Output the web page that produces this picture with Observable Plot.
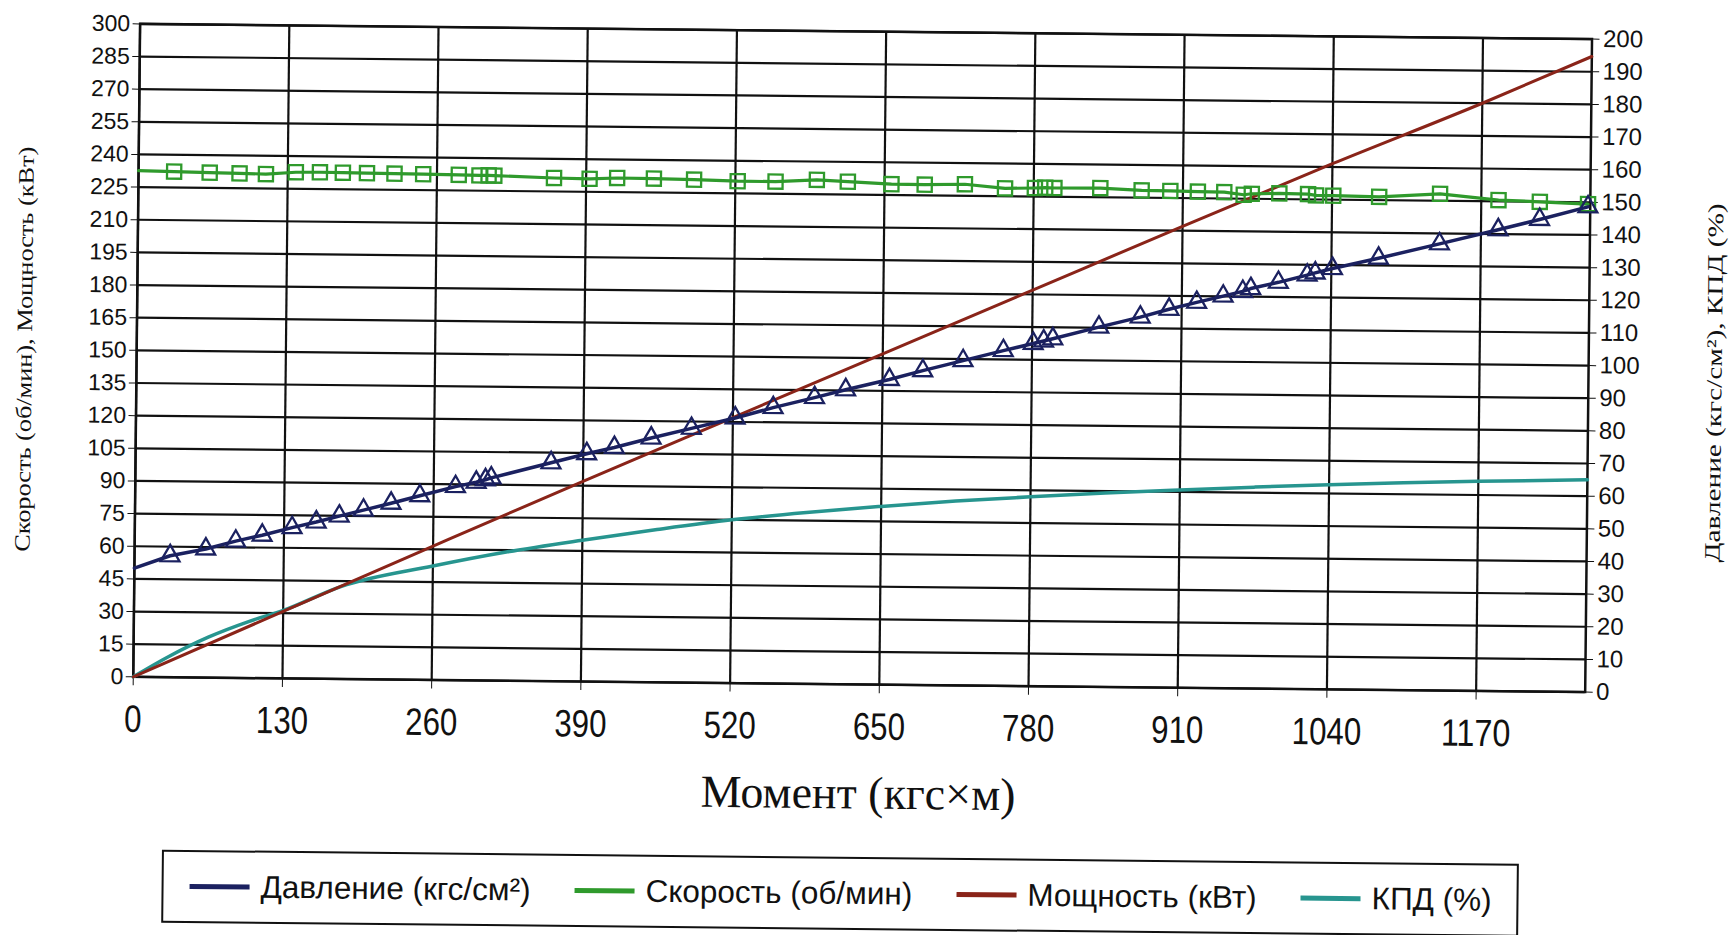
<!DOCTYPE html>
<html>
<head>
<meta charset="utf-8">
<script src="https://cdn.jsdelivr.net/npm/d3@7"></script>
<script src="https://cdn.jsdelivr.net/npm/@observablehq/plot@0.6"></script>
<style>
  html, body { margin: 0; padding: 0; background: #ffffff; }
  #page { position: relative; width: 1731px; height: 935px; transform: rotate(0.6deg); transform-origin: 865px 467px; }
  #chart svg { display: block; }
  #legend { position: absolute; left: 166px; top: 857px; width: 1357px; height: 73px; box-sizing: border-box;
            border: 2.5px solid #111; display: flex; align-items: center; padding-left: 26px; gap: 44px;
            font-family: "Liberation Sans", Arial, sans-serif; font-size: 31.5px; color: #111; }
  .item { display: flex; align-items: center; gap: 11px; white-space: nowrap; }
  .swatch { width: 60px; height: 5px; }
</style>
</head>
<body>
<div id="page">
  <div id="chart"></div>
  <div id="legend"></div>
</div>
<script>
// ---------- data ----------
// measurement points (torque, kgf·m)
const momentMarks = [31,62,88,111,137,158,178,199,223,248,279,297,305,310,362,393,417,449,484,522,555,591,618,656,685,720,755,781,790,798,838,874,899,923,946,963,970,994,1019,1026,1041,1081,1134,1185,1221,1263];
// pressure (kgf/cm²) – right axis
const pressure = [37.2,39.4,41.9,43.8,46.2,48.0,49.9,51.8,54.0,56.4,59.3,60.7,61.5,62.1,66.9,69.8,71.8,74.8,77.9,81.2,84.5,87.7,90.2,93.5,96.3,99.5,102.7,105.0,105.8,106.5,110.2,113.4,115.9,118.1,120.1,121.6,122.5,124.5,126.8,127.5,128.9,132.2,136.8,141.3,144.6,148.6];
// speed (rpm) – left axis
const speed = [232.3,232.0,231.8,231.6,232.6,232.7,232.6,232.5,232.4,232.3,232.2,232.0,232.1,232.0,231.2,231.0,231.5,231.4,231.1,230.6,230.6,231.6,230.9,230.0,229.9,230.3,228.6,228.9,229.1,229.0,229.2,228.3,228.2,228.0,227.9,226.8,227.3,227.6,227.4,226.9,226.8,226.5,228.2,225.6,225.0,224.2];
// line start values at zero torque
const pressureAtZero = 33.3;
const speedAtZero = 232.6;
// power (kW) – left axis
const powerMoment = [0,130,260,390,520,650,780,910,1040,1170,1265];
const power = [0,30.8,61.5,92,122,152,182,212,241.5,270,292];
// efficiency (%) – right axis
const effMoment = [0,30,65,100,130,180,260,325,390,455,520,585,650,715,780,845,910,975,1040,1105,1170,1265];
const efficiency = [0,6.2,12.4,17.3,20.8,28.3,34.9,39.5,43.3,46.8,50.0,52.5,54.6,56.5,58.0,59.4,60.6,61.7,62.7,63.5,64.2,65.0];

// ticks
const xTicks = [0,130,260,390,520,650,780,910,1040,1170];
const leftTicks = [0,15,30,45,60,75,90,105,120,135,150,165,180,195,210,225,240,255,270,285,300];
const rightTicks = [0,10,20,30,40,50,60,70,80,90,100,110,120,130,140,150,160,170,180,190,200];
const xDomain = [0, 1265];
const leftDomain = [0, 300];
const rightDomain = [0, 200];

const xTitle = "Момент (кгс×м)";
const leftTitle = "Скорость (об/мин), Мощность (кВт)";
const rightTitle = "Давление (кгс/см²), КПД (%)";

const series = [
  {name: "Давление (кгс/см²)", color: "#1b2160"},
  {name: "Скорость (об/мин)", color: "#2f9a2c"},
  {name: "Мощность (кВт)", color: "#8a2419"},
  {name: "КПД (%)", color: "#27958f"}
];

// ---------- tables ----------
const R = leftDomain[1] / rightDomain[1]; // right-axis units -> left-axis units
const marks = momentMarks.map((m, i) => ({m, p: pressure[i], s: speed[i]}));
const pressureLine = [{m: 0, p: pressureAtZero}, ...marks];
const speedLine = [{m: 0, s: speedAtZero}, ...marks];
const powerData = powerMoment.map((m, i) => ({m, v: power[i]}));
const effData = effMoment.map((m, i) => ({m, v: efficiency[i]}));

const ink = "#111";
const serif = "Liberation Serif, Times New Roman, serif";
const chart = Plot.plot({
  width: 1731, height: 840,
  marginLeft: 135, marginRight: 144, marginTop: 31, marginBottom: 156,
  style: {background: "transparent", overflow: "visible", fontFamily: "Liberation Sans, Arial, sans-serif"},
  x: {domain: xDomain},
  y: {domain: leftDomain},
  marks: [
    Plot.gridY(leftTicks, {stroke: ink, strokeOpacity: 1, strokeWidth: 2.2}),
    Plot.gridX(xTicks, {stroke: ink, strokeOpacity: 1, strokeWidth: 2.2}),
    Plot.frame({stroke: ink, strokeWidth: 2.5}),
    Plot.axisY(leftTicks, {anchor: "left", tickSize: 7, tickPadding: 3, fontSize: 23, color: ink, label: null}),
    Plot.axisY(rightTicks.map(v => v * R), {anchor: "right", tickSize: 7, tickPadding: 4, fontSize: 24, color: ink, label: null,
      tickFormat: d => String(Math.round(d / R))}),
    Plot.axisX(xTicks, {anchor: "bottom", tickSize: 9, tickPadding: 19, fontSize: 38, color: ink, label: null,
      tickFormat: d => String(d)}),
    // curves
    Plot.line(effData, {x: "m", y: d => d.v * R, stroke: series[3].color, strokeWidth: 3.5, curve: "monotone-x"}),
    Plot.line(powerData, {x: "m", y: "v", stroke: series[2].color, strokeWidth: 3, curve: "monotone-x"}),
    Plot.line(speedLine, {x: "m", y: "s", stroke: series[1].color, strokeWidth: 3.2}),
    Plot.dot(marks, {x: "m", y: "s", symbol: "square", r: 8, stroke: series[1].color, strokeWidth: 2.3, fill: "none"}),
    Plot.line(pressureLine, {x: "m", y: d => d.p * R, stroke: series[0].color, strokeWidth: 3.5}),
    Plot.dot(marks, {x: "m", y: d => d.p * R, symbol: "triangle", r: 7, stroke: series[0].color, strokeWidth: 2.3, fill: "none"}),
    // axis titles
    Plot.text([xTitle], {text: d => d, frameAnchor: "bottom", dy: 124, fontSize: 46, fill: ink, fontFamily: serif}),
    Plot.text([leftTitle], {text: d => d, frameAnchor: "left", textAnchor: "middle", dx: -112, rotate: -90,
      fontSize: 22, fill: ink, fontFamily: serif}),
    Plot.text([rightTitle], {text: d => d, frameAnchor: "right", textAnchor: "middle", dx: 126, dy: 16, rotate: -90,
      fontSize: 22, fill: ink, fontFamily: serif})
  ]
});

// fit texts to the reference extent (narrow tick numerals, stretched titles)
const xTickLabels = new Set(xTicks.map(String));
d3.select(chart).selectAll("text").each(function () {
  const t = this.textContent;
  if (t === leftTitle) { this.setAttribute("textLength", 405); this.setAttribute("lengthAdjust", "spacingAndGlyphs"); }
  if (t === rightTitle) { this.setAttribute("textLength", 359); this.setAttribute("lengthAdjust", "spacingAndGlyphs"); }
  if (this.getAttribute("font-size") === null && xTickLabels.has(t) && this.closest("g") &&
      this.closest("g").getAttribute("font-size") === "38") {
    this.setAttribute("textLength", t.length * 17.4); this.setAttribute("lengthAdjust", "spacingAndGlyphs");
  }
});

document.getElementById("chart").appendChild(chart);

// legend
const legend = d3.select("#legend");
series.forEach(s => {
  const it = legend.append("div").attr("class", "item");
  it.append("div").attr("class", "swatch").style("background", s.color);
  it.append("span").text(s.name);
});
</script>
</body>
</html>
